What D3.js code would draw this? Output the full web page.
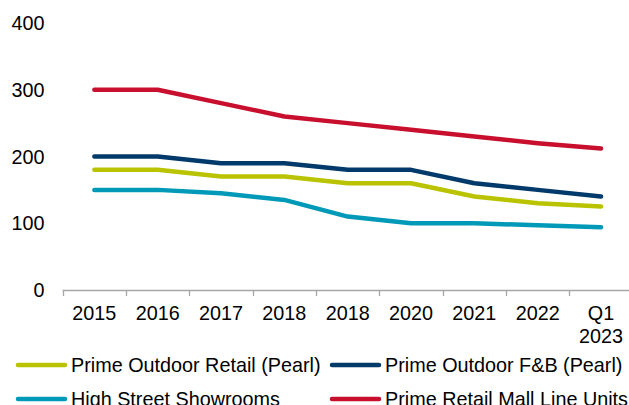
<!DOCTYPE html>
<html>
<head>
<meta charset="utf-8">
<script src="https://cdn.jsdelivr.net/npm/d3@7"></script>
<style>
  body { margin: 0; background: #fff; }
  svg { display: block; font-family: "Liberation Sans", Arial, sans-serif; }
</style>
</head>
<body>
<script>
(function(){
	// chart data
	var categories = ["2015", "2016", "2017", "2018", "2018b", "2020", "2021", "2022", "Q1 2023"];
	var catLabels = [["2015"], ["2016"], ["2017"], ["2018"], ["2018"], ["2020"], ["2021"], ["2022"], ["Q1", "2023"]];
	var seriesNames = ["Prime Outdoor Retail (Pearl)", "Prime Outdoor F&B (Pearl)", "High Street Showrooms", "Prime Retail Mall Line Units"];
	var retailVals = [180, 180, 170, 170, 160, 160, 140, 130, 125];
	var fnbVals = [200, 200, 190, 190, 180, 180, 160, 150, 140];
	var showroomVals = [150, 150, 145, 135, 110, 100, 100, 97, 94];
	var mallVals = [300, 300, 280, 260, 250, 240, 230, 220, 212];
	var yTicks = [0, 100, 200, 300, 400];
	var colors = ["#BAC300", "#003A6A", "#009AB8", "#C8102E"];

	var width = 629, height = 405;
	var left = 62.7, right = 632.7, top = 23, bottom = 290;

	var svg = d3.select("body")
		.append("svg")
		.attr("width", width)
		.attr("height", height);

	var x = d3.scaleBand()
		.domain(categories)
		.range([left, right]);

	var y = d3.scaleLinear()
		.domain([0, 400])
		.range([bottom, top]);

	// y labels, no axis line
	svg.selectAll(".ylab")
		.data(yTicks)
		.enter()
		.append("text")
		.attr("class", "ylab")
		.attr("x", 44.5)
		.attr("y", function(d){ return y(d); })
		.attr("dy", "0.36em")
		.attr("text-anchor", "end")
		.style("font-size", "19.8px")
		.style("fill", "#000")
		.text(function(d){ return d; });

	// x axis line + boundary ticks
	svg.append("line")
		.attr("x1", left).attr("x2", right)
		.attr("y1", bottom + 0.5).attr("y2", bottom + 0.5)
		.attr("stroke", "#A6A6A6")
		.attr("stroke-width", 1.3);

	var bounds = categories.map(function(c){ return x(c); }).concat([right]);
	svg.selectAll(".xtick")
		.data(bounds)
		.enter()
		.append("line")
		.attr("class", "xtick")
		.attr("x1", function(d){ return Math.round(d) + 0.5; })
		.attr("x2", function(d){ return Math.round(d) + 0.5; })
		.attr("y1", bottom)
		.attr("y2", bottom + 6)
		.attr("stroke", "#A6A6A6")
		.attr("stroke-width", 1.3);

	// x labels
	var xl = svg.selectAll(".xlab")
		.data(categories)
		.enter()
		.append("text")
		.attr("class", "xlab")
		.attr("text-anchor", "middle")
		.style("font-size", "19.8px")
		.style("fill", "#000");
	xl.each(function(d, i){
		var t = d3.select(this);
		catLabels[i].forEach(function(s, k){
			t.append("tspan")
				.attr("x", x(d) + x.bandwidth() / 2)
				.attr("y", 320 + k * 23)
				.text(s);
		});
	});

	// lines
	var allSeries = [retailVals, fnbVals, showroomVals, mallVals];
	var line = d3.line()
		.x(function(d, i){ return x(categories[i]) + x.bandwidth() / 2; })
		.y(function(d){ return y(d); });

	svg.selectAll(".series")
		.data(allSeries)
		.enter()
		.append("path")
		.attr("class", "series")
		.attr("d", line)
		.attr("fill", "none")
		.attr("stroke", function(d, i){ return colors[i]; })
		.attr("stroke-width", 4.5)
		.attr("stroke-linecap", "round")
		.attr("stroke-linejoin", "round");

	// legend
	var legPos = [[16, 365], [330, 365], [16, 399], [330, 399]];
	var leg = svg.selectAll(".leg")
		.data(seriesNames)
		.enter()
		.append("g")
		.attr("class", "leg")
		.attr("transform", function(d, i){ return "translate(" + legPos[i][0] + "," + legPos[i][1] + ")"; });
	leg.append("line")
		.attr("x1", 2).attr("x2", 49)
		.attr("y1", 0).attr("y2", 0)
		.attr("stroke", function(d, i){ return colors[i]; })
		.attr("stroke-width", 4.5)
		.attr("stroke-linecap", "round");
	leg.append("text")
		.attr("x", 55)
		.attr("y", 0)
		.attr("dy", "0.36em")
		.style("font-size", "19.8px")
		.style("fill", "#000")
		.text(function(d){ return d; });
})();
</script>
</body>
</html>
